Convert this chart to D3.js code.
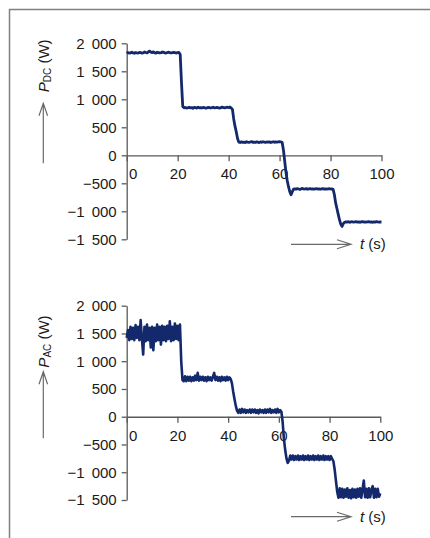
<!DOCTYPE html>
<html>
<head>
<meta charset="utf-8">
<script src="https://cdn.jsdelivr.net/npm/d3@7"></script>
<style>
    body { margin: 0; background: #fff; }
    text { font-family: "Liberation Sans", Arial, sans-serif; fill: #1a1a1a; }
</style>
</head>
<body>
<svg id="chart" width="430" height="538"></svg>
<script>
    // tick values / labels
    const xTicks = [0, 20, 40, 60, 80, 100];
    const yTicks = [-1500, -1000, -500, 0, 500, 1000, 1500, 2000];
    const yTickLabels = ["\u22121 500", "\u22121 000", "\u2212500", "0", "500", "1 000", "1 500", "2 000"];

    // sampled every 0.5 s, one row = 5 s
    const pDC = [
        1820, 1835, 1825, 1830, 1840, 1828, 1822, 1835, 1830, 1826,
        1838, 1832, 1825, 1830, 1845, 1836, 1828, 1850, 1860, 1842,
        1835, 1848, 1830, 1826, 1840, 1835, 1828, 1832, 1845, 1838,
        1830, 1825, 1836, 1842, 1830, 1828, 1835, 1840, 1832, 1826,
        1834, 1838, 1800, 1300, 870, 848, 855, 842, 850, 858,
        846, 852, 840, 856, 850, 844, 858, 848, 852, 845,
        855, 850, 842, 848, 856, 850, 845, 852, 858, 846,
        850, 855, 848, 842, 852, 860, 850, 846, 854, 858,
        850, 862, 845, 820, 650, 520, 420, 300, 235, 228,
        240, 232, 236, 228, 242, 235, 230, 238, 245, 232,
        236, 230, 240, 234, 228, 238, 232, 242, 236, 230,
        238, 234, 240, 228, 236, 242, 232, 238, 235, 240,
        245, 238, 232, 100, -100, -300, -450, -560, -650, -705,
        -650, -605, -598, -604, -596, -602, -610, -598, -592, -604,
        -600, -595, -606, -600, -594, -602, -598, -605, -600, -596,
        -602, -598, -606, -600, -595, -603, -598, -604, -600, -596,
        -602, -598, -606, -700, -850, -950, -1050, -1150, -1230, -1270,
        -1220, -1195, -1188, -1192, -1185, -1196, -1190, -1186, -1194, -1190,
        -1185, -1192, -1188, -1196, -1190, -1184, -1192, -1188, -1195, -1190,
        -1186, -1192, -1190, -1196, -1188, -1192, -1185, -1190, -1194, -1190,
        -1192
    ];

    const pAC = [
        1420, 1560, 1380, 1620, 1400, 1600, 1380, 1650, 1420, 1620,
        1380, 1740, 1400, 1120, 1620, 1360, 1660, 1380, 1600, 1250,
        1620, 1200, 1600, 1360, 1660, 1380, 1620, 1300, 1640, 1380,
        1620, 1360, 1640, 1400, 1720, 1360, 1620, 1380, 1680, 1400,
        1640, 1380, 1660, 1000, 660, 640, 730, 640, 720, 650,
        720, 640, 710, 650, 740, 660, 790, 650, 720, 660,
        720, 650, 710, 640, 720, 660, 710, 650, 720, 790,
        660, 720, 650, 710, 640, 720, 660, 710, 650, 720,
        660, 710, 680, 600, 450, 320, 200, 110, 70, 130,
        70, 140, 80, 130, 70, 120, 80, 130, 70, 130,
        80, 130, 70, 120, 60, 130, 80, 120, 70, 130,
        70, 130, 80, 140, 70, 120, 80, 130, 70, 140,
        80, 120, 90, -100, -400, -600, -750, -830, -790, -700,
        -770, -700, -780, -710, -770, -700, -780, -710, -770, -700,
        -780, -710, -770, -700, -780, -710, -770, -700, -780, -710,
        -770, -700, -780, -710, -770, -700, -780, -710, -770, -710,
        -780, -710, -760, -800, -950, -1150, -1350, -1460, -1290, -1450,
        -1300, -1460, -1310, -1440, -1290, -1460, -1320, -1470, -1300, -1450,
        -1310, -1460, -1300, -1440, -1290, -1460, -1300, -1150, -1450, -1300,
        -1460, -1290, -1450, -1310, -1250, -1460, -1300, -1450, -1300, -1440,
        -1380
    ];

    const time = pDC.map((d, i) => i * 0.5);

    const svg = d3.select("#chart");
    const axisColor = "#5a5a5a";
    const lineColor = "#14296b";

    // frame
    svg.append("path")
        .attr("d", "M9.5,538 V9.5 H430")
        .attr("fill", "none")
        .attr("stroke", "#808080")
        .attr("stroke-width", 1.5);

    const panels = [
        { values: pDC, sub: "DC", x0: 126.7, x1: 381.5, yTop: 43.3, yBot: 239.3, labelY: 65.8,
          arrow: [163.3, 103.3], tY: 244.3, lw: 2.8 },
        { values: pAC, sub: "AC", x0: 126.7, x1: 380.3, yTop: 305.7, yBot: 500, labelY: 341.5,
          arrow: [438.3, 371.7], tY: 516.7, lw: 2.6 }
    ];

    panels.forEach(p => {
        const g = svg.append("g");
        const x = d3.scaleLinear().domain([0, 100]).range([p.x0, p.x1]);
        const y = d3.scaleLinear().domain([-1500, 2000]).range([p.yBot, p.yTop]);

        const yAxis = g.append("g")
            .attr("transform", `translate(${p.x0},0)`)
            .call(d3.axisLeft(y).tickValues(yTicks).tickFormat((d, i) => yTickLabels[i])
                .tickSize(5).tickSizeOuter(0).tickPadding(5));

        const xAxis = g.append("g")
            .attr("transform", `translate(0,${y(0)})`)
            .call(d3.axisBottom(x).tickValues(xTicks).tickSize(6).tickSizeOuter(0).tickPadding(7.5));

        [yAxis, xAxis].forEach(a => {
            a.select(".domain").attr("stroke", axisColor).attr("stroke-width", 1.3);
            a.selectAll(".tick line").attr("stroke", axisColor).attr("stroke-width", 1.3);
            a.selectAll(".tick text").attr("font-size", 15).attr("fill", "#1a1a1a")
                .attr("font-family", "'Liberation Sans', Arial, sans-serif")
                .style("word-spacing", "3px");
        });
        xAxis.selectAll(".tick text").filter(d => d === 0).attr("dx", 6);

        // trace
        const line = d3.line().x((d, i) => x(time[i])).y(d => y(d));
        g.append("path")
            .datum(p.values)
            .attr("d", line)
            .attr("fill", "none")
            .attr("stroke", lineColor)
            .attr("stroke-width", p.lw)
            .attr("stroke-linejoin", "round");

        // y label
        const lab = g.append("text")
            .attr("transform", `translate(48.5,${p.labelY}) rotate(-90)`)
            .attr("text-anchor", "middle")
            .attr("font-size", 15);
        lab.append("tspan").attr("font-style", "italic").text("P");
        lab.append("tspan").attr("font-size", 10).attr("dy", 2.5).text(p.sub);
        lab.append("tspan").attr("dy", -2.5).text(" (W)");

        // vertical arrow
        const ax = 43.3;
        g.append("path")
            .attr("d", `M${ax},${p.arrow[0]} V${p.arrow[1]} M${ax - 4.3},${p.arrow[1] + 12.5} L${ax},${p.arrow[1]} L${ax + 4.3},${p.arrow[1] + 12.5}`)
            .attr("fill", "none")
            .attr("stroke", "#6a6a6a")
            .attr("stroke-width", 1.2);

        // horizontal arrow + t (s)
        g.append("path")
            .attr("d", `M291,${p.tY} H351 M337,${p.tY - 4.5} L351,${p.tY} L337,${p.tY + 4.5}`)
            .attr("fill", "none")
            .attr("stroke", "#6a6a6a")
            .attr("stroke-width", 1.2);

        const tl = g.append("text")
            .attr("x", 360)
            .attr("y", p.tY + 5)
            .attr("font-size", 15);
        tl.append("tspan").attr("font-style", "italic").text("t");
        tl.append("tspan").text(" (s)");
    });
</script>
</body>
</html>
